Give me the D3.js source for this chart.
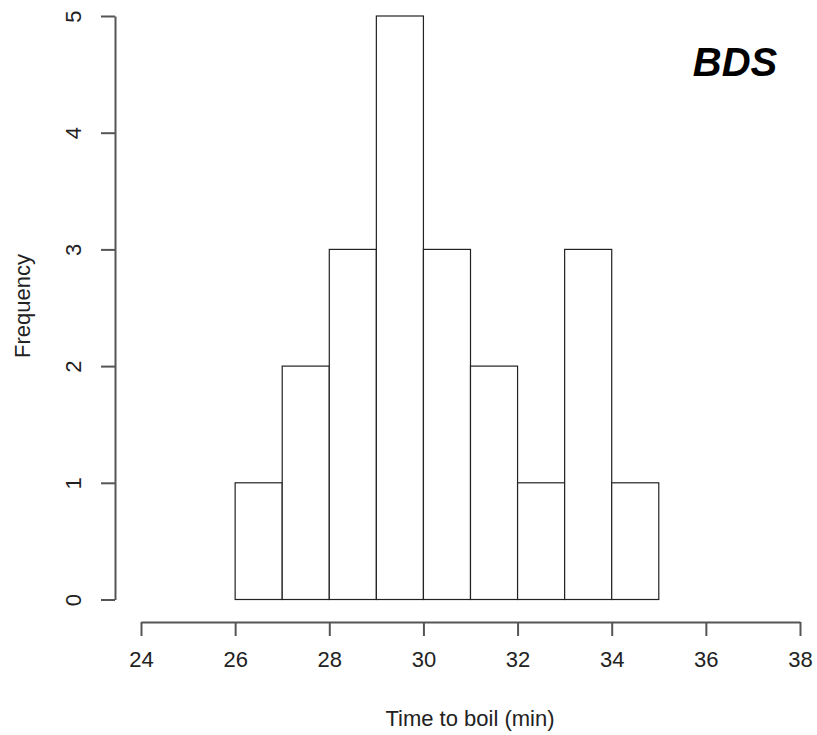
<!DOCTYPE html>
<html><head><meta charset="utf-8">
<script src="https://cdn.jsdelivr.net/npm/d3@7/dist/d3.min.js"></script>
<style>body{margin:0;background:#fff}</style>
</head><body>
<script>
const binStarts = [26, 27, 28, 29, 30, 31, 32, 33, 34];
const binWidth = 1;
const frequencies = [1, 2, 3, 5, 3, 2, 1, 3, 1];
const xTicks = [24, 26, 28, 30, 32, 34, 36, 38];
const yTicks = [0, 1, 2, 3, 4, 5];
const title = "BDS";
const xLabel = "Time to boil (min)";
const yLabel = "Frequency";

const W = 817, H = 735;
const svg = d3.select("body").append("svg").attr("width", W).attr("height", H);
const x = d3.scaleLinear().domain([24, 38]).range([141, 800]);
const y = d3.scaleLinear().domain([0, 5]).range([599.5, 16]);
const font = "'Liberation Sans', Arial, sans-serif";
const fs = 22;

svg.selectAll("rect.bar").data(frequencies).enter().append("rect")
  .attr("x", (d,i) => x(binStarts[i]))
  .attr("y", d => y(d))
  .attr("width", (d,i) => x(binStarts[i] + binWidth) - x(binStarts[i]))
  .attr("height", d => y(0) - y(d))
  .attr("fill", "#fff").attr("stroke", "#222").attr("stroke-width", 1.2);

const xAxis = svg.append("g").attr("transform", "translate(0,622)")
  .call(d3.axisBottom(x).tickValues(xTicks).tickFormat(d3.format("d")).tickSize(14).tickPadding(15).tickSizeOuter(0));
xAxis.selectAll("text").attr("font-size", fs).attr("font-family", font).attr("fill", "#222");

const yAxis = svg.append("g").attr("transform", "translate(115,0)")
  .call(d3.axisLeft(y).tickValues(yTicks).tickFormat(d3.format("d")).tickSize(14).tickPadding(0).tickSizeOuter(0));
yAxis.selectAll("text")
  .attr("font-size", fs).attr("font-family", font).attr("fill", "#222")
  .attr("transform", d => `translate(-42,0) rotate(-90)`)
  .attr("x", 0).attr("dy", "0.35em").attr("text-anchor", "middle");
svg.selectAll(".domain, .tick line").attr("stroke", "#555").attr("stroke-width", 2);

svg.append("text").attr("x", 470).attr("y", 726).attr("text-anchor", "middle")
  .attr("font-size", fs).attr("font-family", font).attr("fill", "#222").text(xLabel);
svg.append("text").attr("transform", "translate(30,306) rotate(-90)").attr("text-anchor", "middle")
  .attr("font-size", fs).attr("font-family", font).attr("fill", "#222").text(yLabel);
svg.append("text").attr("x", 735).attr("y", 76).attr("text-anchor", "middle")
  .attr("font-size", 40).attr("font-weight", "bold").attr("font-style", "italic")
  .attr("font-family", font).attr("fill", "#000").text(title);
</script>
</body></html>
